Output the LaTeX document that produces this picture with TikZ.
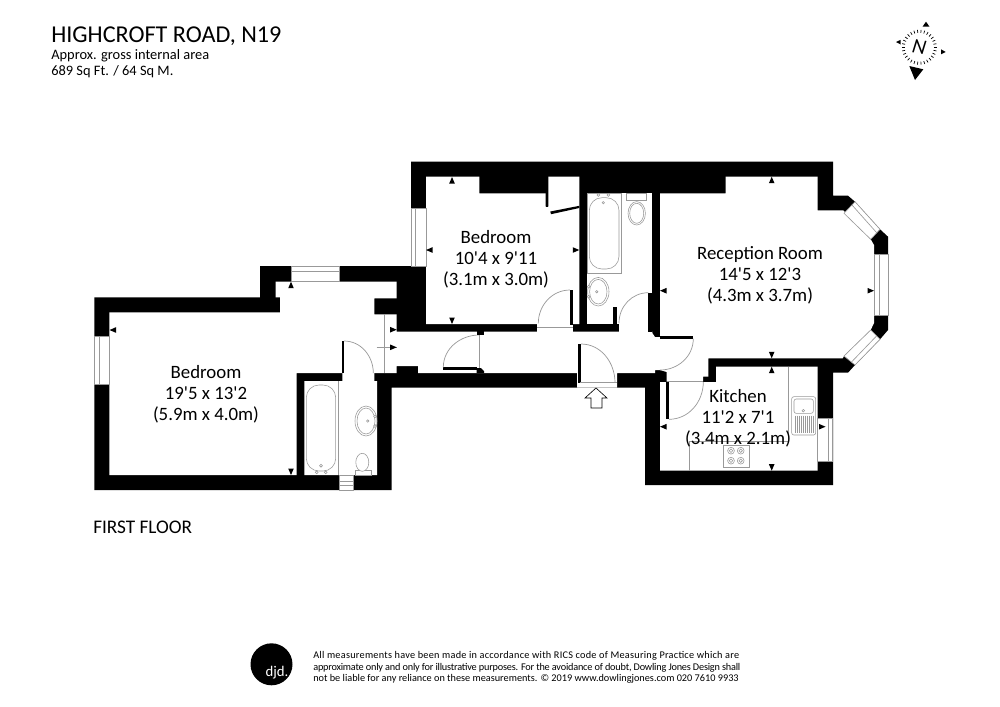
\documentclass[tikz,border=0pt]{standalone}
\usepackage{fontspec}
\setmainfont{Carlito}
\usetikzlibrary{positioning}
\definecolor[named]{fixgrey}{rgb}{0.6,0.6,0.6}
\newcommand{\dimmark}[3]{\fill[shift={(#1,#2)},rotate=#3] (0,0) -- (-6.5,2.8) -- (-6.5,-2.8) -- cycle;}
\newcommand{\ft}{\textquotesingle}

\begin{document}
\begin{tikzpicture}
       [x=0.025cm,y=-0.025cm,
        wall/.style={fill=black,draw=none},
        room/.style={fill=white,draw=none},
        fixture/.style={draw=fixgrey,line width=0.4pt,fill=white},
        pane/.style={draw=fixgrey,line width=0.45pt},
        swing/.style={draw=fixgrey,line width=0.5pt},
        roomlabel/.style={align=center,inner sep=0pt,font=\fontsize{13.4}{15}\selectfont},
        headtext/.style={anchor=base west,inner sep=0pt}]
    \useasboundingbox (0,0) rectangle (1000,706);

    % outer walls
    \path[wall] (94.3,297.3) -- (260,297.3) -- (260,266) -- (411,266) -- (411,161.5)
        -- (833,161.5) -- (833,195.7) -- (848,195.7) -- (855,201.7) -- (880,229.3)
        -- (888,236.7) -- (888,330) -- (880,339.3) -- (855,365) -- (848,372.7)
        -- (833,372.7) -- (833,485) -- (645,485) -- (645,387.5) -- (391.7,387.5)
        -- (391.7,490) -- (94.3,490) -- cycle;

    % rooms
    \path[room] (109.3,312.3) -- (280,312.3) -- (280,297.3) -- (275.7,297.3) -- (275.7,281.7)
        -- (396.7,281.7) -- (396.7,298.3) -- (374.3,298.3) -- (374.3,314.3) -- (384.3,314.3)
        -- (384.3,373) -- (296.7,373) -- (296.7,475) -- (109.3,475) -- cycle;
    \path[room] (304.3,381) -- (342.3,381) -- (342.3,373) -- (374.3,373) -- (374.3,381)
        -- (377,381) -- (377,475) -- (304.3,475) -- cycle;
    \path[room] (426,176.7) -- (479.3,176.7) -- (479.3,193.3) -- (545.7,193.3) -- (545.7,206.7)
        -- (548.3,206.7) -- (548.3,176.7) -- (579.3,176.7) -- (579.3,324) -- (426,324) -- cycle;
    \path[room] (587.3,193.3) rectangle (652.3,324);
    \path[room] (660,193.3) -- (725.7,193.3) -- (725.7,176.7) -- (817.7,176.7) -- (817.7,210.3)
        -- (843.3,210.3) -- (870.7,239.3) -- (874,245) -- (874,323) -- (870.7,330) -- (844,356)
        -- (842.7,358.3) -- (708.3,358.3) -- (708.3,376.7) -- (703,376.7) -- (703,381.5)
        -- (666.7,381.5) -- (666.7,372) -- (660,370) -- cycle;
    \path[room] (716,366.7) -- (817.7,366.7) -- (817.7,470.7) -- (660,470.7) -- (660,382)
        -- (716,382) -- cycle;
    % hall
    \path[room] (384.3,314.3) -- (396.7,314.3) -- (396.7,331.7) -- (652.3,331.7) -- (652.3,333)
        -- (655,337) -- (660,337) -- (660,370) -- (655,370) -- (655,373) -- (617,373)
        -- (617,387.5) -- (577,387.5) -- (577,373) -- (418,373) -- (418,366) -- (396.7,366)
        -- (396.7,373) -- (384.3,373) -- cycle;
    \path[room] (537,324) rectangle (573.3,332);
    \path[room] (619,324) rectangle (648.3,332);

    % windows
    \path[room] (411,208) rectangle (426,266);
    \draw[pane] (411,208) rectangle (426,266) (415.7,208) -- (415.7,266);
    \path[room] (94.3,336) rectangle (109.3,384.3);
    \draw[pane] (94.3,336) rectangle (109.3,384.3) (99,336) -- (99,384.3);
    \path[room] (291,266) rectangle (339.7,281.7);
    \draw[pane] (291,266) rectangle (339.7,281.7) (291,271) -- (339.7,271);
    \path[room] (339.7,475) rectangle (353.7,490);
    \draw[pane] (339.7,475) rectangle (353.7,490) (339.7,485) -- (353.7,485) (339.7,481) -- (353.7,481);
    \path[room] (817.7,418) rectangle (832.7,461.7);
    \draw[pane] (817.7,418) rectangle (832.7,461.7) (828,418) -- (828,461.7);
    \path[room] (874,254) rectangle (888,315);
    \draw[pane] (874,254) rectangle (888,315) (879,254) -- (879,315);
    \path[room] (855,201.7) -- (880,229.3) -- (870.7,239.3) -- (844,213.3) -- cycle;
    \draw[pane] (855,201.7) -- (880,229.3) -- (870.7,239.3) -- (844,213.3) -- cycle
        (852,205) -- (876.5,232.5);
    \path[room] (870.7,330) -- (880,339.3) -- (855,365) -- (844,356) -- cycle;
    \draw[pane] (870.7,330) -- (880,339.3) -- (855,365) -- (844,356) -- cycle
        (876.5,336) -- (851.5,362);

    % doors
    \fill (341.7,341) rectangle (344.3,373);
    \draw[swing] (344,341) to[out=0,in=90] (373.3,373);
    \fill (570,290) rectangle (573.3,325);
    \draw[swing] (538.3,323.3) to[out=90,in=180] (570,290);
    \draw[swing] (537,327.5) -- (573,327.5);
    \fill (613,307) rectangle (617,324);
    \fill (648.3,292.7) rectangle (652.3,332);
    \draw[swing] (619,323) to[out=90,in=180] (648.3,292.7);
    \fill (443.3,367.3) rectangle (477.3,370);
    \draw[swing] (443.3,367.3) to[out=90,in=180] (479.3,335);
    \draw[swing] (479.3,335) -- (479.3,370);
    \fill (476.7,331) rectangle (484,335);
    \fill (476.7,368) -- (481,368) -- (484,371) -- (484,373) -- (476.7,373) -- cycle;
    \fill (578.3,344) rectangle (581,382.7);
    \draw[swing] (581,344) to[out=0,in=90] (615,382.7);
    \draw[swing] (580,382.7) -- (617,382.7);
    \fill (660,336) rectangle (693.3,338.7);
    \draw[swing] (693.3,338.7) to[out=270,in=0] (660,370);
    \fill (666,382) rectangle (669,419.3);
    \draw[swing] (669,419.3) to[out=0,in=270] (703.3,382);
    \draw[swing] (668,381) -- (703,381);
    \fill (545.7,193.3) rectangle (548.3,206.7);
    \fill (550.3,211.5) -- (579.3,205.8) -- (579.3,208) -- (551,214.2) -- cycle;
    \draw[swing] (384.3,314.3) -- (384.3,373);
    \draw[swing] (376.7,347.3) -- (396.7,347.3);

    % bathroom by the bedroom
    \draw[fixture,fill=none] (587.3,193.3) rectangle (621,273.3);
    \draw[fixture,rounded corners=9pt] (589.3,197.7) rectangle (619,269);
    \draw[fixture] (598.3,195) circle (1.4) (608.3,195) circle (1.4) (603.3,202.7) circle (1.2);
    \draw[fixture] (598.3,291.7) ellipse [x radius=10.7,y radius=14.3];
    \draw[fixture] (598.3,291.7) ellipse [x radius=8.7,y radius=12.3];
    \draw[fixture] (588.7,286.7) circle (1.4) (588.7,296.7) circle (1.4) (596.7,291.7) circle (1.2);
    \draw[fixture] (626.7,193.3) rectangle (646.7,200.7);
    \draw[fixture] (636.7,213.3) ellipse [x radius=8.7,y radius=11.7];
    \draw[fixture] (636.7,213.3) ellipse [x radius=7,y radius=10];

    % bathroom by the first floor bedroom
    \draw[pane] (338.3,381) -- (338.3,475);
    \draw[fixture,rounded corners=9pt] (306.3,385) rectangle (335.7,471);
    \draw[fixture] (321,465.7) circle (1.4) (316.7,472.3) circle (1.4) (325.7,472.3) circle (1.4);
    \draw[fixture] (366,421) ellipse [x radius=11,y radius=15];
    \draw[fixture] (366,421) ellipse [x radius=9,y radius=13];
    \draw[fixture] (375,416.3) circle (1.4) (375,426) circle (1.4) (367.7,421) circle (1.2);
    \draw[fixture] (355.7,470) rectangle (371,475);
    \draw[fixture] (362.3,462.3) ellipse [x radius=6.5,y radius=9];

    % kitchen fittings
    \draw[pane] (788.7,366.7) -- (788.7,441.7) -- (689,441.7) -- (689,470.7);
    \draw[fixture,rounded corners=1.5pt] (791.7,396.7) rectangle (815.7,435);
    \draw[fixture,rounded corners=1.5pt] (794,399) rectangle (813.3,413.3);
    \draw[fixture] (803.3,410.7) circle (1.3);
    \foreach \xpos in {795,797,...,813}
        \draw[pane] (\xpos,415.5) -- (\xpos,432.7);
    \draw[fixture] (723.3,445) rectangle (749,467.7);
    \foreach \xpos/\ypos in {731/450.7,740.7/450.7,731/460.7,740.7/460.7}
        \draw[fixture] (\xpos,\ypos) circle (3.4) (\xpos,\ypos) circle (1.7);

    % dimension marks
    \dimmark{452}{177}{90}
    \dimmark{452}{324}{270}
    \dimmark{426}{250}{180}
    \dimmark{579.3}{250}{0}
    \dimmark{771.7}{176.7}{90}
    \dimmark{771.7}{358.3}{270}
    \dimmark{660}{290.7}{180}
    \dimmark{874}{290.7}{0}
    \dimmark{771.7}{366.7}{90}
    \dimmark{771.7}{470.7}{270}
    \dimmark{660}{426.7}{180}
    \dimmark{825.5}{426.7}{0}
    \dimmark{109.5}{330}{180}
    \dimmark{291}{281.7}{90}
    \dimmark{291}{475}{270}
    \dimmark{396.7}{329.7}{0}
    \dimmark{396.7}{347.3}{0}

    % entrance arrow
    \draw[black,line width=0.45pt] (596,388) -- (607,398) -- (602,398) -- (602,408) -- (591,408)
        -- (591,398) -- (585,398) -- cycle;

    % labels
    \node[roomlabel] (bedroomtop) at (496,259) {Bedroom\\10\ft 4 x 9\ft 11\\(3.1m x 3.0m)};
    \node[roomlabel] (reception) at (760,275) {Reception Room\\14\ft 5 x 12\ft 3\\(4.3m x 3.7m)};
    \node[roomlabel] (bedroomleft) at (206,394) {Bedroom\\19\ft 5 x 13\ft 2\\(5.9m x 4.0m)};
    \node[roomlabel] (kitchen) at (738,418) {Kitchen\\11\ft 2 x 7\ft 1\\(3.4m x 2.1m)};

    \node[headtext,font=\fontsize{17.2}{18}\selectfont] (title) at (51,42) {HIGHCROFT ROAD, N19};
    \node[headtext,font=\fontsize{10.25}{11}\selectfont] (area) at (51,59) {Approx. gross internal area};
    \node[headtext,font=\fontsize{10.25}{11}\selectfont] (areasize) at (51,75) {689 Sq Ft. / 64 Sq M.};
    \node[headtext,font=\fontsize{13.7}{15}\selectfont] (floor) at (93,533) {FIRST FLOOR};

    % compass
    \foreach \ang in {0,12,...,348}
        \draw[line width=0.5pt] (919.3,47.3) ++(\ang:14.5) -- ++(\ang:3);
    \node[inner sep=0pt,rotate=-10,font=\fontsize{15}{15}\selectfont\itshape] (north) at (919.3,47.3) {N};
    \fill (926,21.7) -- (929.5,26.7) -- (922.5,26.7) -- cycle;
    \fill (896,42) -- (900.7,39.8) -- (900.7,44.5) -- cycle;
    \fill (945.7,52) -- (941,49.3) -- (941,54.3) -- cycle;
    \fill (909.3,66) -- (923.3,69.3) -- (915,80) -- cycle;

    % logo and small print
    \fill (271.5,664.3) circle (21);
    \node[inner sep=0pt,text=white,font=\fontsize{10.5}{11}\selectfont] (logo) at (277,673) {djd.};
    \node[anchor=west,align=left,inner sep=0pt,font=\fontsize{7.3}{8.3}\selectfont] (smallprint) at (313,667.5)
        {\addfontfeature{LetterSpace=2.5}All measurements have been made in accordance with RICS code of Measuring Practice which are\\
         \addfontfeature{LetterSpace=-2}approximate only and only for illustrative purposes. For the avoidance of doubt, Dowling Jones Design shall\\
         not be liable for any reliance on these measurements. \textcopyright{} 2019 www.dowlingjones.com 020 7610 9933};
\end{tikzpicture}
\end{document}
